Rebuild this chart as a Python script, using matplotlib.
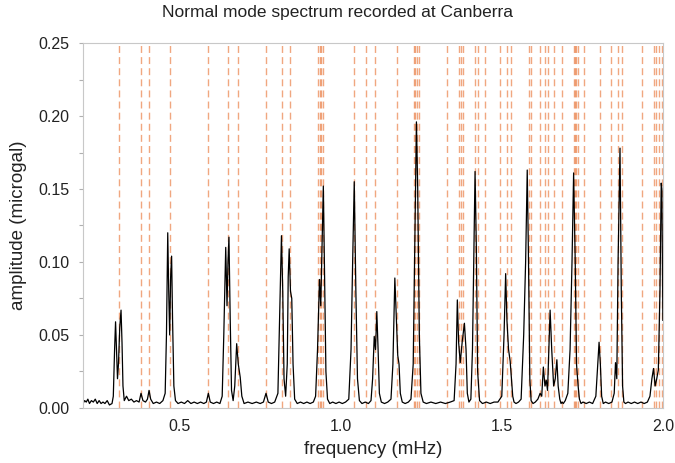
import matplotlib
matplotlib.use("Agg")
import matplotlib.pyplot as plt
from matplotlib.ticker import MultipleLocator

plt.rcParams["font.family"] = ["Liberation Sans", "DejaVu Sans"]

# spectrum: frequency (mHz) and amplitude (microgal)
freq = [
    0.200, 0.205, 0.210, 0.215, 0.220, 0.226, 0.232, 0.238, 0.244, 0.250,
    0.256, 0.262, 0.268, 0.275, 0.282, 0.290, 0.294, 0.298, 0.301, 0.304,
    0.307, 0.310, 0.314, 0.318, 0.321, 0.324, 0.328, 0.335, 0.342, 0.350,
    0.358, 0.366, 0.374, 0.380, 0.386, 0.394, 0.400, 0.405, 0.410, 0.418,
    0.428, 0.438, 0.448, 0.455, 0.459, 0.463, 0.466, 0.469, 0.472, 0.475,
    0.478, 0.482, 0.487, 0.495, 0.505, 0.515, 0.525, 0.535, 0.545, 0.555,
    0.565, 0.575, 0.583, 0.589, 0.595, 0.605, 0.615, 0.625, 0.632, 0.637,
    0.643, 0.647, 0.650, 0.653, 0.657, 0.661, 0.666, 0.671, 0.677, 0.682,
    0.688, 0.693, 0.700, 0.712, 0.725, 0.738, 0.750, 0.760, 0.768, 0.775,
    0.785, 0.795, 0.805, 0.810, 0.816, 0.820, 0.824, 0.829, 0.834, 0.837,
    0.840, 0.844, 0.848, 0.852, 0.857, 0.865, 0.875, 0.885, 0.895, 0.905,
    0.915, 0.922, 0.928, 0.934, 0.938, 0.942, 0.946, 0.950, 0.954, 0.959,
    0.966, 0.975, 0.985, 0.995, 1.005, 1.015, 1.025, 1.032, 1.037, 1.042,
    1.047, 1.052, 1.058, 1.066, 1.076, 1.086, 1.094, 1.099, 1.104, 1.108,
    1.112, 1.116, 1.120, 1.126, 1.136, 1.146, 1.156, 1.162, 1.168, 1.173,
    1.177, 1.181, 1.185, 1.191, 1.200, 1.210, 1.218, 1.225, 1.231, 1.235,
    1.239, 1.244, 1.249, 1.256, 1.266, 1.280, 1.295, 1.310, 1.325, 1.340,
    1.352, 1.358, 1.362, 1.366, 1.371, 1.377, 1.384, 1.389, 1.393, 1.398,
    1.404, 1.409, 1.413, 1.417, 1.421, 1.425, 1.431, 1.440, 1.452, 1.464,
    1.476, 1.488, 1.500, 1.507, 1.512, 1.516, 1.521, 1.526, 1.530, 1.534,
    1.538, 1.544, 1.552, 1.560, 1.568, 1.574, 1.579, 1.583, 1.587, 1.591,
    1.597, 1.604, 1.612, 1.619, 1.624, 1.629, 1.634, 1.638, 1.642, 1.646,
    1.650, 1.655, 1.661, 1.666, 1.671, 1.675, 1.680, 1.684, 1.687, 1.691,
    1.697, 1.705, 1.712, 1.718, 1.723, 1.728, 1.732, 1.737, 1.741, 1.746,
    1.752, 1.762, 1.772, 1.782, 1.792, 1.798, 1.802, 1.806, 1.810, 1.815,
    1.822, 1.832, 1.842, 1.849, 1.853, 1.857, 1.861, 1.867, 1.871, 1.875,
    1.879, 1.884, 1.892, 1.902, 1.912, 1.922, 1.932, 1.942, 1.952, 1.960,
    1.966, 1.971, 1.976, 1.981, 1.986, 1.991, 1.995, 1.997, 2.000,
]
amp = [
    0.003, 0.005, 0.004, 0.006, 0.003, 0.005, 0.004, 0.006, 0.003, 0.005,
    0.003, 0.004, 0.003, 0.005, 0.002, 0.003, 0.008, 0.040, 0.059, 0.040,
    0.020, 0.030, 0.055, 0.067, 0.045, 0.015, 0.005, 0.008, 0.005, 0.006,
    0.004, 0.005, 0.004, 0.010, 0.005, 0.004, 0.006, 0.012, 0.006, 0.003,
    0.004, 0.003, 0.005, 0.010, 0.050, 0.120, 0.080, 0.050, 0.090, 0.104,
    0.060, 0.015, 0.005, 0.003, 0.004, 0.003, 0.005, 0.003, 0.004, 0.003,
    0.004, 0.003, 0.004, 0.010, 0.004, 0.003, 0.004, 0.003, 0.008, 0.050,
    0.110, 0.070, 0.100, 0.117, 0.060, 0.012, 0.005, 0.015, 0.044, 0.030,
    0.021, 0.008, 0.003, 0.004, 0.003, 0.004, 0.003, 0.004, 0.010, 0.004,
    0.003, 0.004, 0.010, 0.060, 0.118, 0.080, 0.020, 0.008, 0.030, 0.090,
    0.109, 0.080, 0.075, 0.030, 0.006, 0.003, 0.004, 0.003, 0.004, 0.003,
    0.004, 0.008, 0.040, 0.088, 0.070, 0.110, 0.152, 0.090, 0.025, 0.006,
    0.003, 0.004, 0.003, 0.004, 0.003, 0.004, 0.006, 0.040, 0.100, 0.155,
    0.080, 0.020, 0.005, 0.003, 0.004, 0.003, 0.005, 0.020, 0.049, 0.040,
    0.066, 0.040, 0.010, 0.004, 0.003, 0.004, 0.006, 0.030, 0.089, 0.060,
    0.036, 0.030, 0.010, 0.004, 0.003, 0.004, 0.006, 0.030, 0.130, 0.196,
    0.150, 0.050, 0.010, 0.004, 0.003, 0.004, 0.003, 0.004, 0.003, 0.004,
    0.005, 0.030, 0.074, 0.045, 0.031, 0.045, 0.058, 0.040, 0.010, 0.004,
    0.006, 0.040, 0.100, 0.162, 0.110, 0.025, 0.005, 0.003, 0.004, 0.003,
    0.004, 0.004, 0.008, 0.050, 0.092, 0.060, 0.040, 0.032, 0.020, 0.008,
    0.004, 0.003, 0.004, 0.006, 0.050, 0.100, 0.163, 0.100, 0.020, 0.005,
    0.003, 0.004, 0.006, 0.010, 0.008, 0.028, 0.015, 0.019, 0.012, 0.040,
    0.067, 0.040, 0.015, 0.020, 0.033, 0.015, 0.006, 0.003, 0.004, 0.003,
    0.005, 0.010, 0.040, 0.100, 0.161, 0.100, 0.030, 0.015, 0.006, 0.003,
    0.004, 0.003, 0.004, 0.003, 0.008, 0.030, 0.045, 0.030, 0.008, 0.003,
    0.004, 0.003, 0.004, 0.010, 0.031, 0.020, 0.100, 0.178, 0.080, 0.015,
    0.004, 0.003, 0.004, 0.003, 0.004, 0.003, 0.004, 0.003, 0.004, 0.008,
    0.020, 0.027, 0.015, 0.020, 0.026, 0.080, 0.154, 0.150, 0.060,
]

# predicted mode frequencies (dashed lines), mHz
mode_freq = [
    0.312, 0.380, 0.406, 0.470, 0.589, 0.651, 0.682, 0.768, 0.817, 0.841,
    0.928, 0.936, 0.940, 0.945, 1.042, 1.079, 1.107, 1.174, 1.226, 1.231,
    1.236, 1.242, 1.331, 1.366, 1.373, 1.381, 1.417, 1.425, 1.449, 1.493,
    1.516, 1.528, 1.586, 1.591, 1.619, 1.635, 1.642, 1.661, 1.687, 1.723,
    1.727, 1.731, 1.738, 1.756, 1.806, 1.839, 1.862, 1.873, 1.935, 1.971,
    1.980, 1.988, 1.997,
]

fig = plt.figure(figsize=(6.75, 4.63), dpi=100)
ax = fig.add_axes([0.123, 0.119, 0.859, 0.788])

for f in mode_freq:
    ax.axvline(f, color="#e8783c", alpha=0.65, lw=1.0, dashes=(5, 3), zorder=1)

ax.plot(freq, amp, color="black", lw=0.9, zorder=2)

ax.set_xlim(0.2, 2.0)
ax.set_ylim(0, 0.25)
ax.set_xticks([0.5, 1.0, 1.5, 2.0])
ax.set_xticklabels(["0.5", "1.0", "1.5", "2.0"])
ax.yaxis.set_major_locator(MultipleLocator(0.05))
ax.yaxis.set_minor_locator(MultipleLocator(0.025))
ax.yaxis.set_major_formatter(matplotlib.ticker.FormatStrFormatter("%.2f"))

for s in ax.spines.values():
    s.set_color("#c8c8c8")
    s.set_linewidth(0.8)
ax.tick_params(axis="both", which="both", color="#b0b0b0", labelsize=11.5,
               labelcolor="#222222", length=3, width=0.8)
ax.tick_params(axis="x", length=0, pad=8)
ax.tick_params(axis="y", pad=7)

# title is centred on the whole figure, not on the axes
fig.text(0.5, 0.972, "Normal mode spectrum recorded at Canberra", fontsize=12.5,
         color="#222222", ha="center", va="center")
ax.set_xlabel("frequency (mHz)", fontsize=13.5, color="#222222", labelpad=5)
ax.set_ylabel("amplitude (microgal)", fontsize=13.5, color="#222222", labelpad=8)

fig.savefig("out.png", dpi=100)
